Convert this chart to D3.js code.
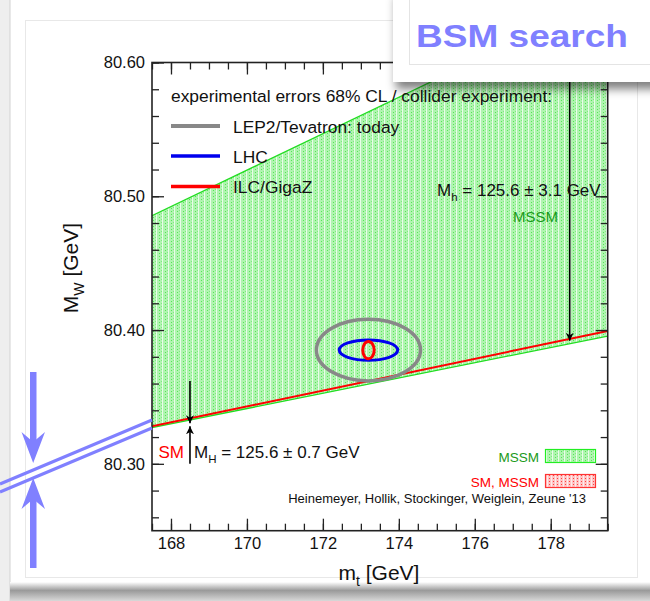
<!DOCTYPE html>
<html><head><meta charset="utf-8">
<script src="https://cdn.jsdelivr.net/npm/d3@7"></script>
<style>body{margin:0;background:#fff}svg{display:block}text{font-family:"Liberation Sans",Arial,sans-serif}</style>
</head><body>
<script>
// ---- data ----
const xDomain = [167.5, 179.5];
const yDomain = [80.25, 80.60];
const xTicks = [168, 170, 172, 174, 176, 178];
const yTicks = [80.30, 80.40, 80.50, 80.60];
const yTickLabels = ["80.30", "80.40", "80.50", "80.60"];
// MSSM allowed band (m_t, M_W)
const mssmUpper = [[167.5, 80.4855], [175.91, 80.60]];
const mssmLower = [[167.5, 80.327], [179.5, 80.3955]];
const mssmRegion = [[167.5, 80.4855], [175.91, 80.60], [179.5, 80.60], [179.5, 80.3955], [167.5, 80.327]];
// SM prediction line
const smLine = [[167.5, 80.328], [179.5, 80.3993]];
// experimental 68% CL ellipses: centre and half-widths
const ellipseNames = ["LEP2/Tevatron: today", "LHC", "ILC/GigaZ"];
const ellipseCenter = [173.2, 80.385];
const ellipseRx = [1.37, 0.77, 0.15];
const ellipseRy = [0.023, 0.0076, 0.0065];
const ellipseColors = ["#888888", "#0000ee", "#ff0000"];
// arrows
const smArrow = {mt: 168.5, from: 80.362, to: 80.3295, fromBelow: 80.300};
const mssmArrow = {mt: 178.5, from: 80.60, to: 80.392};

const W = 650, H = 601;
const m = {l: 152, r: 607.7, t: 62.5, b: 530.7};
const svg = d3.select("body").append("svg").attr("width", W).attr("height", H);
const defs = svg.append("defs");

// page decorations
const bg = defs.append("linearGradient").attr("id", "botsh").attr("x1", 0).attr("x2", 0).attr("y1", 0).attr("y2", 1);
bg.append("stop").attr("offset", "0").attr("stop-color", "#ffffff");
bg.append("stop").attr("offset", "0.45").attr("stop-color", "#9a9a9a");
bg.append("stop").attr("offset", "1").attr("stop-color", "#d8d8d8");
svg.append("rect").attr("x", 0).attr("y", 0).attr("width", 10).attr("height", H).attr("fill", "#eeeeee");
svg.append("line").attr("x1", 10).attr("x2", 10).attr("y1", 0).attr("y2", H).attr("stroke", "#d2d2d2");
svg.append("rect").attr("x", 10).attr("y", 582).attr("width", W - 10).attr("height", 19).attr("fill", "url(#botsh)");
svg.append("rect").attr("x", 25.5).attr("y", 20.5).attr("width", 612).attr("height", 557).attr("fill", "#fff").attr("stroke", "#e8e8e8");

// patterns
const pg = defs.append("pattern").attr("id", "greenHatch").attr("patternUnits", "userSpaceOnUse").attr("width", 6).attr("height", 3);
pg.append("rect").attr("width", 6).attr("height", 3).attr("fill", "#b0f4b0");
pg.append("rect").attr("x", 0).attr("width", 1).attr("height", 3).attr("fill", "#e9fde9");
pg.append("rect").attr("x", 3).attr("y", 1).attr("width", 1).attr("height", 1).attr("fill", "#55e655");
pg.append("rect").attr("x", 5).attr("y", 0).attr("width", 1).attr("height", 1).attr("fill", "#80ec80");
const pr = defs.append("pattern").attr("id", "redHatch").attr("patternUnits", "userSpaceOnUse").attr("width", 4).attr("height", 3);
pr.append("rect").attr("width", 4).attr("height", 3).attr("fill", "#ffc4c4");
pr.append("rect").attr("x", 1).attr("y", 1).attr("width", 1).attr("height", 1).attr("fill", "#ff4040");
pr.append("rect").attr("x", 3).attr("y", 0).attr("width", 1).attr("height", 3).attr("fill", "#ffeaea");

const clip = defs.append("clipPath").attr("id", "plotclip");
clip.append("rect").attr("x", m.l).attr("y", m.t).attr("width", m.r - m.l).attr("height", m.b - m.t);

// markers
defs.append("marker").attr("id", "ah").attr("viewBox", "0 0 10 10").attr("refX", 10).attr("refY", 5)
  .attr("markerWidth", 8).attr("markerHeight", 8).attr("markerUnits", "userSpaceOnUse").attr("orient", "auto")
  .append("path").attr("d", "M0,0 L10,5 L0,10 L3,5 Z").attr("fill", "#000");

const x = d3.scaleLinear().domain(xDomain).range([m.l, m.r]);
const y = d3.scaleLinear().domain(yDomain).range([m.b, m.t]);
const line = d3.line().x(d => x(d[0])).y(d => y(d[1]));

const plot = svg.append("g").attr("clip-path", "url(#plotclip)");
plot.append("path").datum(mssmRegion).attr("d", d => line(d) + "Z").attr("fill", "url(#greenHatch)");
plot.append("path").datum(mssmUpper).attr("d", line).attr("fill", "none").attr("stroke", "#22dd22").attr("stroke-width", 1.3);
plot.append("path").datum(mssmLower).attr("d", line).attr("fill", "none").attr("stroke", "#22dd22").attr("stroke-width", 1.3);
plot.append("path").datum(smLine).attr("d", line).attr("fill", "none").attr("stroke", "#ff0000").attr("stroke-width", 2);

// ellipses
ellipseNames.forEach((n, i) => {
  plot.append("ellipse").attr("cx", x(ellipseCenter[0])).attr("cy", y(ellipseCenter[1]))
    .attr("rx", x(ellipseCenter[0] + ellipseRx[i]) - x(ellipseCenter[0]))
    .attr("ry", y(ellipseCenter[1]) - y(ellipseCenter[1] + ellipseRy[i]))
    .attr("fill", "none").attr("stroke", ellipseColors[i]).attr("stroke-width", i === 0 ? 3.5 : 3);
});

// arrows
plot.append("line").attr("x1", x(smArrow.mt)).attr("x2", x(smArrow.mt)).attr("y1", y(smArrow.from)).attr("y2", y(smArrow.to) - 1)
  .attr("stroke", "#000").attr("stroke-width", 1.6).attr("marker-end", "url(#ah)");
plot.append("line").attr("x1", x(smArrow.mt)).attr("x2", x(smArrow.mt)).attr("y1", y(smArrow.fromBelow)).attr("y2", y(smArrow.to) + 2)
  .attr("stroke", "#000").attr("stroke-width", 1.6).attr("marker-end", "url(#ah)");
plot.append("line").attr("x1", x(mssmArrow.mt)).attr("x2", x(mssmArrow.mt)).attr("y1", y(mssmArrow.from)).attr("y2", y(mssmArrow.to))
  .attr("stroke", "#000").attr("stroke-width", 1.6).attr("marker-end", "url(#ah)");

// axes
const axCol = "#222";
function styleAxis(g) {
  g.select(".domain").remove();
  g.selectAll(".tick line").attr("stroke", axCol).attr("stroke-width", 1.3);
  g.selectAll(".tick text").attr("font-size", 16.5).attr("fill", "#111").attr("font-family", '"Liberation Sans",Arial,sans-serif');
}
const xMinor = x.ticks(24), yMinor = y.ticks(17);
svg.append("g").attr("transform", `translate(0,${m.b})`).call(d3.axisBottom(x).tickValues(xMinor).tickSizeInner(-7).tickSizeOuter(0).tickFormat("")).call(styleAxis);
svg.append("g").attr("transform", `translate(0,${m.b})`).call(d3.axisBottom(x).tickValues(xTicks).tickSizeInner(-12).tickSizeOuter(0).tickPadding(7).tickFormat(d3.format("d"))).call(styleAxis);
svg.append("g").attr("transform", `translate(0,${m.t})`).call(d3.axisTop(x).tickValues(xMinor).tickSizeInner(-7).tickSizeOuter(0).tickFormat("")).call(styleAxis);
svg.append("g").attr("transform", `translate(0,${m.t})`).call(d3.axisTop(x).tickValues(xTicks).tickSizeInner(-12).tickSizeOuter(0).tickFormat("")).call(styleAxis);
svg.append("g").attr("transform", `translate(${m.l},0)`).call(d3.axisLeft(y).tickValues(yMinor).tickSizeInner(-7).tickSizeOuter(0).tickFormat("")).call(styleAxis);
svg.append("g").attr("transform", `translate(${m.l},0)`).call(d3.axisLeft(y).tickValues(yTicks).tickSizeInner(-12).tickSizeOuter(0).tickPadding(7).tickFormat((d, i) => yTickLabels[i])).call(styleAxis);
svg.append("g").attr("transform", `translate(${m.r},0)`).call(d3.axisRight(y).tickValues(yMinor).tickSizeInner(-7).tickSizeOuter(0).tickFormat("")).call(styleAxis);
svg.append("g").attr("transform", `translate(${m.r},0)`).call(d3.axisRight(y).tickValues(yTicks).tickSizeInner(-12).tickSizeOuter(0).tickFormat("")).call(styleAxis);
svg.append("rect").attr("x", m.l).attr("y", m.t).attr("width", m.r - m.l).attr("height", m.b - m.t)
  .attr("fill", "none").attr("stroke", axCol).attr("stroke-width", 1.6);

// axis titles
const xt = svg.append("text").attr("x", 379).attr("y", 580).attr("text-anchor", "middle").attr("font-size", 21).attr("fill", "#111");
xt.append("tspan").text("m");
xt.append("tspan").attr("dy", 6).attr("font-size", 14).text("t");
xt.append("tspan").attr("dy", -6).text(" [GeV]");
const yt = svg.append("text").attr("transform", "translate(78,268) rotate(-90)").attr("text-anchor", "middle").attr("font-size", 21).attr("fill", "#111");
yt.append("tspan").text("M");
yt.append("tspan").attr("dy", 6).attr("font-size", 14).text("W");
yt.append("tspan").attr("dy", -6).text(" [GeV]");

// legend (top)
svg.append("text").attr("x", 171).attr("y", 102).attr("font-size", 17.4).attr("fill", "#111").text("experimental errors 68% CL / collider experiment:");
const legY = [126, 156, 186.5];
ellipseNames.forEach((n, i) => {
  svg.append("line").attr("x1", 171).attr("x2", 220).attr("y1", legY[i]).attr("y2", legY[i])
    .attr("stroke", ellipseColors[i]).attr("stroke-width", i === 0 ? 4 : 3.5);
  svg.append("text").attr("x", 233).attr("y", legY[i] + 6.5).attr("font-size", 17.4).attr("fill", "#111").text(n);
});

// annotations
const mh = svg.append("text").attr("x", 437).attr("y", 196).attr("font-size", 17).attr("fill", "#111");
mh.append("tspan").text("M");
mh.append("tspan").attr("dy", 5).attr("font-size", 11.5).text("h");
mh.append("tspan").attr("dy", -5).text(" = 125.6 \u00b1 3.1 GeV");
svg.append("text").attr("x", 558).attr("y", 222).attr("text-anchor", "end").attr("font-size", 15).attr("fill", "#1a9a1a").text("MSSM");
svg.append("text").attr("x", 184).attr("y", 458).attr("text-anchor", "end").attr("font-size", 17).attr("fill", "#ff0000").text("SM");
const mH = svg.append("text").attr("x", 194).attr("y", 458).attr("font-size", 17).attr("fill", "#111");
mH.append("tspan").text("M");
mH.append("tspan").attr("dy", 5).attr("font-size", 11.5).text("H");
mH.append("tspan").attr("dy", -5).text(" = 125.6 \u00b1 0.7 GeV");

// bottom legend
svg.append("text").attr("x", 539).attr("y", 461.5).attr("text-anchor", "end").attr("font-size", 13.5).attr("fill", "#1a9a1a").text("MSSM");
svg.append("rect").attr("x", 545.5).attr("y", 449.5).attr("width", 50).attr("height", 13).attr("fill", "url(#greenHatch)").attr("stroke", "#22ee22").attr("stroke-width", 1.2);
svg.append("text").attr("x", 539).attr("y", 486.5).attr("text-anchor", "end").attr("font-size", 13.5).attr("fill", "#ff0000").text("SM, MSSM");
svg.append("rect").attr("x", 545.5).attr("y", 474.5).attr("width", 50).attr("height", 13).attr("fill", "url(#redHatch)").attr("stroke", "#ff3333").attr("stroke-width", 1.2);
svg.append("text").attr("x", 586).attr("y", 503).attr("text-anchor", "end").attr("font-size", 13).attr("fill", "#111").text("Heinemeyer, Hollik, Stockinger, Weiglein, Zeune '13");

// BSM search box
const sh = defs.append("filter").attr("id", "shadow").attr("x", "-20%").attr("y", "-20%").attr("width", "140%").attr("height", "160%");
sh.append("feDropShadow").attr("dx", 3).attr("dy", 7).attr("stdDeviation", 5).attr("flood-color", "#000").attr("flood-opacity", 0.5);
svg.append("rect").attr("x", 393).attr("y", -10).attr("width", 270).attr("height", 92).attr("fill", "#fff").attr("filter", "url(#shadow)");
svg.append("rect").attr("x", 409.5).attr("y", -5).attr("width", 250).attr("height", 69.5).attr("fill", "none").attr("stroke", "#e4e4e4");
svg.append("text").attr("x", 416).attr("y", 47).attr("font-family", '"DejaVu Sans",sans-serif').attr("font-weight", "bold")
  .attr("font-size", 31).attr("fill", "#8080ff").attr("textLength", 212).attr("lengthAdjust", "spacingAndGlyphs").text("BSM search");

// blue marker on the left
const blue = "#8080ff";
const bl = svg.append("g");
bl.append("line").attr("x1", 0).attr("y1", 484).attr("x2", m.l).attr("y2", 420).attr("stroke", blue).attr("stroke-width", 3);
bl.append("line").attr("x1", 0).attr("y1", 492).attr("x2", m.l).attr("y2", 428).attr("stroke", blue).attr("stroke-width", 3);
bl.append("rect").attr("x", 30).attr("y", 372).attr("width", 6.5).attr("height", 72).attr("fill", blue);
bl.append("path").attr("d", "M33.2,463 L21.5,432 L33.2,442 L45,432 Z").attr("fill", blue);
bl.append("rect").attr("x", 30).attr("y", 497).attr("width", 6.5).attr("height", 71).attr("fill", blue);
bl.append("path").attr("d", "M33.2,478 L21.5,509 L33.2,499 L45,509 Z").attr("fill", blue);
</script>
</body></html>
